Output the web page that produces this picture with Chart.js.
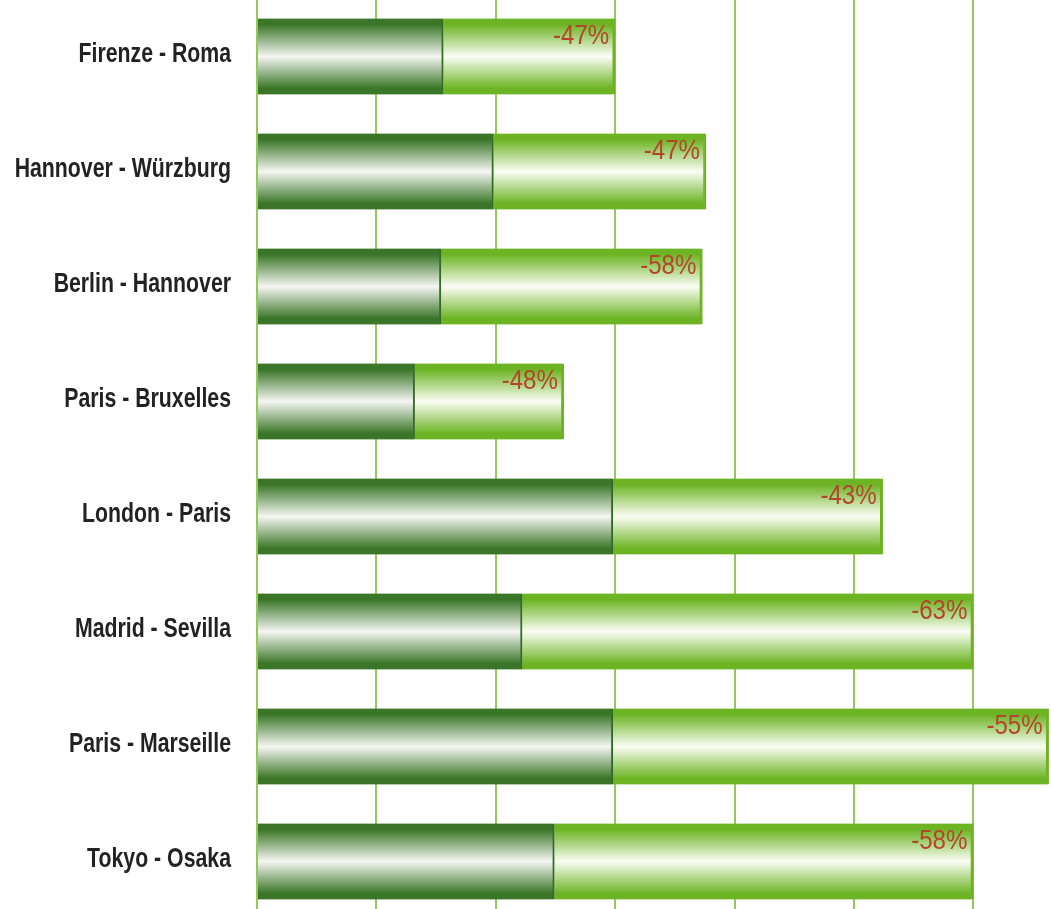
<!DOCTYPE html>
<html>
<head>
<meta charset="utf-8">
<script src="https://cdn.jsdelivr.net/npm/chart.js@4"></script>
<style>
    html, body { margin: 0; padding: 0; background: #ffffff; overflow: hidden; }
    #wrap { position: absolute; left: 0; top: -1px; width: 1051px; height: 920px; }
</style>
</head>
<body>
<div id="wrap"><canvas id="routeChart" width="1051" height="920"></canvas></div>
<script>
// Routes and travel times (grid step = 1)
const routes = ['Firenze - Roma', 'Hannover - Würzburg', 'Berlin - Hannover', 'Paris - Bruxelles',
    'London - Paris', 'Madrid - Sevilla', 'Paris - Marseille', 'Tokyo - Osaka'];
const newTime = [1.56, 1.98, 1.54, 1.32, 2.98, 2.22, 2.98, 2.49];
const oldTime = [3.00, 3.76, 3.73, 2.57, 5.24, 6.00, 6.63, 6.00];
const reduction = ['-47%', '-47%', '-58%', '-48%', '-43%', '-63%', '-55%', '-58%'];

const BAR_H = 76;
const gridGreen = '#94c95a';

// vertical band gradient: dark at top/bottom, near white in the middle
function bandGradient(ctx, edge, mid) {
    const chart = ctx.chart;
    const yScale = chart.scales.y;
    if (!yScale || ctx.dataIndex === undefined) return edge;
    const cy = yScale.getPixelForValue(ctx.dataIndex);
    if (!isFinite(cy)) return edge;
    const g = chart.ctx.createLinearGradient(0, cy - BAR_H / 2, 0, cy + BAR_H / 2);
    g.addColorStop(0, edge);
    g.addColorStop(0.08, edge);
    g.addColorStop(0.5, mid);
    g.addColorStop(0.92, edge);
    g.addColorStop(1, edge);
    return g;
}

// condensed text: the original uses a narrow font, so squeeze Liberation Sans
function narrowText(ctx, text, x, y, sx) {
    ctx.save();
    ctx.translate(x, y);
    ctx.scale(sx, 1);
    ctx.fillText(text, 0, 0);
    ctx.restore();
}

// route names left of the plot and percent labels at the top right of each bar
const textLabels = {
    id: 'textLabels',
    afterDatasetsDraw(chart) {
        const ctx = chart.ctx;
        const yScale = chart.scales.y;
        ctx.save();
        ctx.textAlign = 'right';
        ctx.textBaseline = 'alphabetic';

        ctx.font = 'bold 28px "Liberation Sans", Arial, sans-serif';
        ctx.fillStyle = '#222222';
        chart.data.labels.forEach((name, i) => {
            narrowText(ctx, name, 231, yScale.getPixelForTick(i) + 5, 0.76);
        });

        ctx.font = '28px "Liberation Sans", Arial, sans-serif';
        ctx.fillStyle = '#b3452a';
        chart.getDatasetMeta(1).data.forEach((bar, i) => {
            narrowText(ctx, reduction[i], bar.x - 6, bar.y - BAR_H / 2 + 25, 0.86);
        });
        ctx.restore();
    }
};

new Chart(document.getElementById('routeChart').getContext('2d'), {
    type: 'bar',
    data: {
        labels: routes,
        datasets: [
            {
                label: 'new',
                data: newTime,
                backgroundColor: (c) => bandGradient(c, '#3b7628', '#f4f6f2'),
                borderColor: '#356b24',
                borderWidth: { top: 0, bottom: 0, left: 0, right: 2 },
                borderSkipped: false,
                barThickness: BAR_H
            },
            {
                label: 'saved',
                data: oldTime.map((v, i) => v - newTime[i]),
                backgroundColor: (c) => bandGradient(c, '#6db424', '#fbfdf5'),
                borderColor: '#6db324',
                borderWidth: { top: 0, bottom: 0, left: 0, right: 3 },
                borderSkipped: false,
                barThickness: BAR_H
            }
        ]
    },
    options: {
        indexAxis: 'y',
        responsive: false,
        animation: false,
        layout: { padding: 0 },
        plugins: {
            legend: { display: false },
            tooltip: { enabled: false }
        },
        scales: {
            x: {
                stacked: true,
                min: 0,
                max: 6.65,
                ticks: { display: false, stepSize: 1, includeBounds: false },
                grid: { color: gridGreen, lineWidth: 2, drawTicks: false },
                border: { display: false }
            },
            y: {
                stacked: true,
                afterFit: function(scale) { scale.width = 257; },
                ticks: { display: false },
                grid: { display: false, drawTicks: false },
                border: { display: false }
            }
        }
    },
    plugins: [textLabels]
});
</script>
</body>
</html>
